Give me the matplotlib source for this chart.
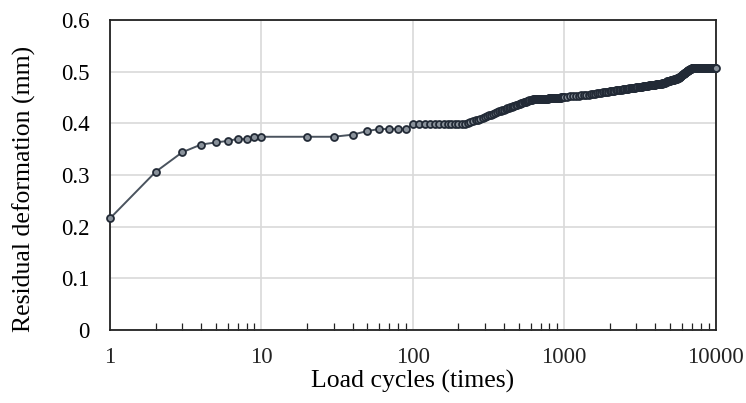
import matplotlib
matplotlib.use("Agg")
import matplotlib.pyplot as plt
from matplotlib.ticker import FixedLocator, FixedFormatter, LogLocator, NullFormatter

plt.rcParams['font.family'] = ['Liberation Serif', 'DejaVu Serif']

# Early cycles
cycles_a = [1, 2, 3, 4, 5, 6, 7, 8, 9, 10, 20, 30, 40, 50, 60, 70, 80, 90]
deform_a = [0.216, 0.306, 0.344, 0.359, 0.363, 0.366, 0.370, 0.369, 0.374, 0.374,
            0.374, 0.374, 0.378, 0.385, 0.389, 0.389, 0.389, 0.389]

# 100 - 300, every 10 cycles
cycles_b = list(range(100, 301, 10))
deform_b = [0.398, 0.398, 0.398, 0.398, 0.398, 0.398, 0.398, 0.398, 0.398, 0.398,
            0.398, 0.398, 0.399, 0.400, 0.402, 0.404, 0.406, 0.407, 0.409, 0.410,
            0.412]

# 310 - 1000, every 10 cycles
cycles_c = list(range(310, 1001, 10))
deform_c = [0.414, 0.416, 0.417, 0.419, 0.420, 0.422, 0.423, 0.424, 0.425, 0.426,
            0.428, 0.429, 0.430, 0.431, 0.432, 0.433, 0.434, 0.435, 0.436, 0.437,
            0.438, 0.439, 0.440, 0.441, 0.441, 0.442, 0.443, 0.444, 0.445, 0.446,
            0.446, 0.447, 0.448, 0.448, 0.448, 0.448, 0.448, 0.448, 0.448, 0.448,
            0.448, 0.448, 0.448, 0.448, 0.448, 0.448, 0.448, 0.448, 0.449, 0.449,
            0.449, 0.449, 0.449, 0.449, 0.449, 0.449, 0.449, 0.449, 0.449, 0.449,
            0.449, 0.449, 0.449, 0.449, 0.449, 0.450, 0.450, 0.450, 0.450, 0.450]

# 1050 - 10000, every 50 cycles
cycles_d = list(range(1050, 10001, 50))
deform_d = [0.451, 0.452, 0.452, 0.453, 0.453, 0.454, 0.454, 0.455, 0.455, 0.456,
            0.457, 0.457, 0.458, 0.458, 0.459, 0.460, 0.460, 0.461, 0.461, 0.462,
            0.462, 0.463, 0.463, 0.464, 0.464, 0.464, 0.465, 0.465, 0.466, 0.466,
            0.466, 0.467, 0.467, 0.468, 0.468, 0.468, 0.469, 0.469, 0.469, 0.470,
            0.470, 0.470, 0.471, 0.471, 0.471, 0.472, 0.472, 0.472, 0.472, 0.473,
            0.473, 0.473, 0.474, 0.474, 0.474, 0.474, 0.475, 0.475, 0.475, 0.475,
            0.476, 0.476, 0.476, 0.476, 0.477, 0.477, 0.477, 0.477, 0.478, 0.478,
            0.479, 0.479, 0.479, 0.480, 0.480, 0.481, 0.481, 0.481, 0.482, 0.482,
            0.483, 0.483, 0.483, 0.484, 0.484, 0.484, 0.485, 0.485, 0.485, 0.486,
            0.486, 0.487, 0.487, 0.488, 0.489, 0.490, 0.490, 0.491, 0.492, 0.493,
            0.494, 0.495, 0.496, 0.497, 0.497, 0.498, 0.499, 0.500, 0.501, 0.501,
            0.502, 0.503, 0.504, 0.504, 0.505, 0.505, 0.506, 0.506, 0.507, 0.507,
            0.507, 0.508, 0.508, 0.508, 0.508, 0.508, 0.508, 0.508, 0.508, 0.508,
            0.508, 0.508, 0.508, 0.508, 0.508, 0.508, 0.508, 0.508, 0.508, 0.508,
            0.508, 0.508, 0.508, 0.508, 0.508, 0.508, 0.508, 0.508, 0.508, 0.508,
            0.508, 0.508, 0.508, 0.508, 0.508, 0.508, 0.508, 0.508, 0.508, 0.508,
            0.508, 0.508, 0.508, 0.508, 0.508, 0.508, 0.508, 0.508, 0.508, 0.508,
            0.508, 0.508, 0.508, 0.508, 0.508, 0.508, 0.508, 0.508, 0.508, 0.508]

cycles = cycles_a + cycles_b + cycles_c + cycles_d
deform = deform_a + deform_b + deform_c + deform_d

x_ticks = [1, 10, 100, 1000, 10000]
x_labels = ['1', '10', '100', '1000', '10000']
y_ticks = [0, 0.1, 0.2, 0.3, 0.4, 0.5, 0.6]
y_labels = ['0', '0.1', '0.2', '0.3', '0.4', '0.5', '0.6']

fig = plt.figure(figsize=(7.46, 4.03), dpi=100)
ax = fig.add_axes([110/746, 1-330/403, (715.5-110)/746, 310/403])

ax.plot(cycles, deform, color='#4a535e', linewidth=1.4, marker='o', markersize=5,
        markerfacecolor='#8a929b', markeredgecolor='#222a36', markeredgewidth=1.3,
        zorder=3, clip_on=False)

ax.set_xscale('log')
ax.set_xlim(1, 10000)
ax.set_ylim(0, 0.6)
ax.xaxis.set_major_locator(FixedLocator(x_ticks))
ax.xaxis.set_major_formatter(FixedFormatter(x_labels))
ax.xaxis.set_minor_locator(LogLocator(base=10, subs=range(2, 10)))
ax.xaxis.set_minor_formatter(NullFormatter())
ax.yaxis.set_major_locator(FixedLocator(y_ticks))
ax.yaxis.set_major_formatter(FixedFormatter(y_labels))

ax.grid(True, which='major', color='#d9d9d9', linewidth=1.2)
ax.set_axisbelow(True)
for s in ax.spines.values():
    s.set_color('#222222')
    s.set_linewidth(1.3)

ax.tick_params(axis='x', which='both', direction='in', length=5, width=0.9,
               colors='#222222', labelsize=16.5, pad=12.5)
ax.tick_params(axis='x', which='major', length=0)
ax.tick_params(axis='y', which='both', length=0, labelsize=16.5, pad=14.5)

ax.set_xlabel('Load cycles (times)', fontsize=18.5, labelpad=1)
ax.set_ylabel('Residual deformation (mm)', fontsize=18.5)
ax.yaxis.set_label_coords(-0.122, 0.455)

fig.savefig('out.png', dpi=100)
